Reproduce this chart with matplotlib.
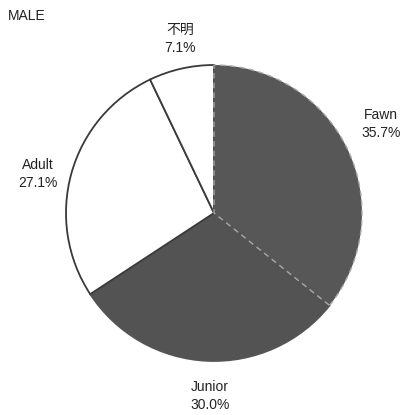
import matplotlib
matplotlib.use('Agg')
import matplotlib.pyplot as plt

plt.rcParams['font.family'] = ['Liberation Sans', 'Noto Sans CJK JP']

# age class share, male
labels = ['Fawn', 'Junior', 'Adult', '不明']
shares = [35.7, 30.0, 27.1, 7.1]
colors = ['#575757', '#535353', '#ffffff', '#ffffff']

W, H = 403, 415
fig = plt.figure(figsize=(W / 100, H / 100), dpi=100)
ax = fig.add_axes([0, 0, 1, 1])
ax.set_xlim(0, W)
ax.set_ylim(0, H)
ax.set_aspect('equal')
ax.axis('off')

cx, cy, r = 214, H - 213, 148
wedges, _ = ax.pie(shares, colors=colors, startangle=90, counterclock=False,
                   center=(cx, cy), radius=r,
                   wedgeprops=dict(edgecolor='#3a3a3a', linewidth=1.3))
ax.set_xlim(0, W)
ax.set_ylim(0, H)

wedges[0].set_edgecolor('#a8a8a8')
wedges[0].set_linestyle((0, (4, 3)))
wedges[0].set_linewidth(1.0)
wedges[0].set_zorder(3)
wedges[1].set_edgecolor('#555555')

# label positions (pixel coords, top-down)
label_xy = [(381, 124), (210, 396), (38, 174), (180, 39)]
for name, val, (x, y) in zip(labels, shares, label_xy):
    ax.text(x, H - y, f'{name}\n{val:.1f}%', ha='center', va='center',
            fontsize=10, color='#222222', linespacing=1.45)

ax.text(8, H - 16, 'MALE', ha='left', va='center', fontsize=10, color='#222222')

fig.savefig('out.png', dpi=100)
